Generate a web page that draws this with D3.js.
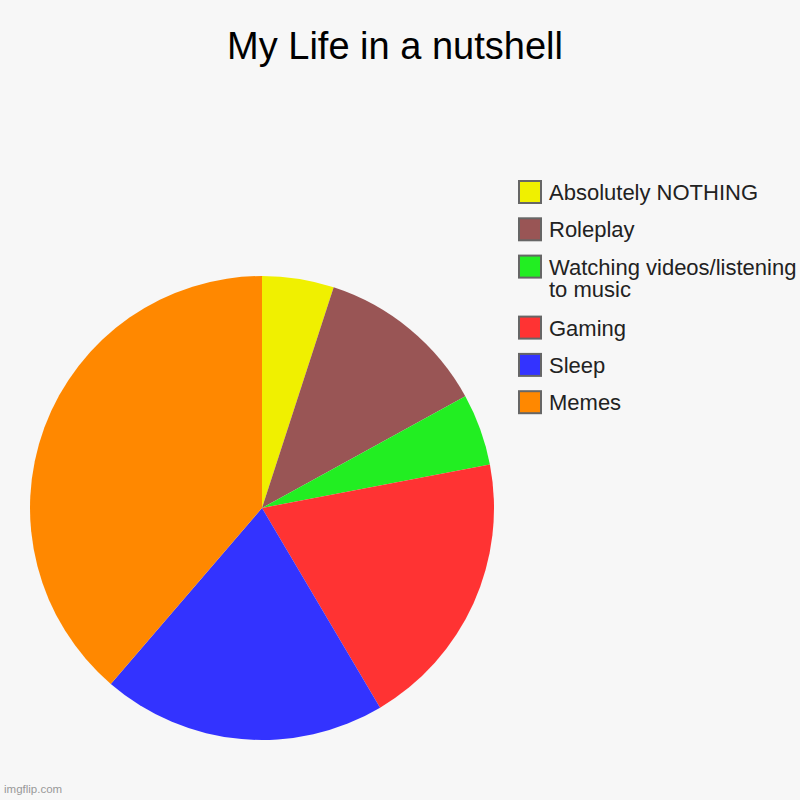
<!DOCTYPE html>
<html>
<head>
<meta charset="utf-8">
<script src="https://cdn.jsdelivr.net/npm/d3@7"></script>
<style>
  body { margin: 0; background: #f7f7f7; }
  svg { display: block; }
</style>
</head>
<body>
<div id="chart"></div>
<script>
// slice data, clockwise from 12 o'clock (same order as the legend)
var labels = ["Absolutely NOTHING", "Roleplay", "Watching videos/listening to music", "Gaming", "Sleep", "Memes"]
var values = [5, 12, 5, 19.5, 19.8, 38.7]
var colors = ["#f0f000", "#995555", "#22ee22", "#ff3333", "#3333ff", "#ff8800"]

var width = 800
var height = 800
var font = "'Liberation Sans', Arial, sans-serif"

var svg = d3.select("#chart").append("svg")
    .attr("width", width)
    .attr("height", height)

svg.append("rect")
    .attr("width", width)
    .attr("height", height)
    .attr("fill", "#f7f7f7")

// title
svg.append("text")
    .attr("x", 395)
    .attr("y", 59)
    .attr("text-anchor", "middle")
    .attr("font-family", font)
    .attr("font-size", "38px")
    .attr("fill", "#000")
    .text("My Life in a nutshell")

// pie
var cx = 262, cy = 508, radius = 232

var pie = d3.pie().sort(null).value(function(d) { return d.value })
var arc = d3.arc().innerRadius(0).outerRadius(radius)

var data = labels.map(function(l, i) { return { label: l, value: values[i], color: colors[i] } })

var g = svg.append("g")
    .attr("transform", "translate(" + cx + "," + cy + ")")

g.selectAll(".slice")
    .data(pie(data))
    .enter().append("path")
    .attr("class", "slice")
    .attr("d", arc)
    .attr("fill", function(d) { return d.data.color })

// legend
var legend = svg.append("g").attr("transform", "translate(519,181)")
var maxTextWidth = 255
var rowGap = 37.3
var lineHeight = 22.5
var y = 0

data.forEach(function(d) {
    var row = legend.append("g").attr("transform", "translate(0," + y + ")")
    row.append("rect")
        .attr("x", 0)
        .attr("y", 0)
        .attr("width", 22)
        .attr("height", 22)
        .attr("fill", d.color)
        .attr("stroke", "#666")
        .attr("stroke-width", 2)

    var text = row.append("text")
        .attr("x", 30)
        .attr("y", 19)
        .attr("font-family", font)
        .attr("font-size", "22px")
        .attr("fill", "#222")

    // wrap long labels onto extra lines
    var words = d.label.split(" ")
    var line = []
    var lines = 0
    var tspan = text.append("tspan").attr("x", 30).attr("dy", 0)
    words.forEach(function(w) {
        line.push(w)
        tspan.text(line.join(" "))
        if (tspan.node().getComputedTextLength() > maxTextWidth && line.length > 1) {
            line.pop()
            tspan.text(line.join(" "))
            line = [w]
            lines++
            tspan = text.append("tspan").attr("x", 30).attr("dy", lineHeight).text(w)
        }
    })
    y += rowGap + lines * (61 - rowGap)
})

// watermark
svg.append("text")
    .attr("x", 4)
    .attr("y", 793)
    .attr("font-family", font)
    .attr("font-size", "11.5px")
    .attr("fill", "#999")
    .text("imgflip.com")
</script>
</body>
</html>
